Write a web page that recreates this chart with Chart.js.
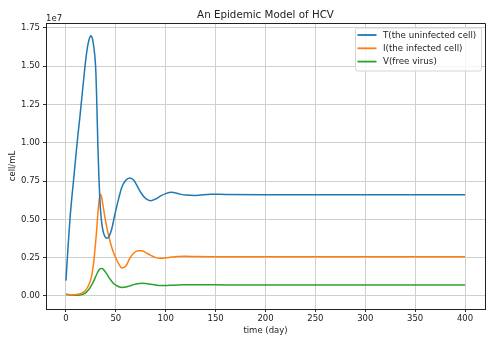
<!DOCTYPE html>
<html>
<head>
<meta charset="utf-8">
<script src="https://cdn.jsdelivr.net/npm/chart.js@4"></script>
<style>
  html, body { margin: 0; padding: 0; background: #fff; }
  canvas { display: block; }
</style>
</head>
<body>
<canvas id="hcv-chart" width="493" height="342"></canvas>
<script>
// time points (days)
const times = [0, 2, 4, 6, 8, 10, 12, 14, 16, 18, 20, 22, 24, 25, 26, 27, 28, 29, 30, 31, 32, 33, 34, 35, 36, 37, 38, 40, 42, 44, 46, 48, 50, 53, 56, 60, 64, 68, 72, 76, 80, 85, 90, 95, 100, 106, 112, 120, 130, 145, 160, 200, 250, 300, 350, 400];

// values in units of 1e7 cell/mL
const uninfected = [0.10, 0.31, 0.50, 0.65, 0.78, 0.92, 1.05, 1.17, 1.30, 1.43, 1.55, 1.64, 1.69, 1.698, 1.69, 1.665, 1.62, 1.56, 1.46, 1.24, 0.98, 0.78, 0.63, 0.53, 0.47, 0.43, 0.405, 0.38, 0.378, 0.40, 0.44, 0.50, 0.56, 0.64, 0.71, 0.755, 0.77, 0.755, 0.71, 0.665, 0.635, 0.622, 0.633, 0.653, 0.668, 0.676, 0.668, 0.658, 0.656, 0.664, 0.662, 0.661, 0.661, 0.661, 0.661, 0.661];
const infected = [0.008, 0.007, 0.007, 0.007, 0.008, 0.009, 0.011, 0.014, 0.019, 0.027, 0.04, 0.06, 0.09, 0.11, 0.14, 0.18, 0.23, 0.30, 0.37, 0.45, 0.54, 0.61, 0.655, 0.662, 0.635, 0.595, 0.555, 0.48, 0.415, 0.36, 0.315, 0.278, 0.248, 0.208, 0.183, 0.195, 0.245, 0.28, 0.295, 0.295, 0.283, 0.265, 0.25, 0.246, 0.249, 0.254, 0.258, 0.259, 0.257, 0.256, 0.256, 0.256, 0.256, 0.256, 0.256, 0.256];
const virus = [0.013, 0.009, 0.006, 0.005, 0.004, 0.004, 0.005, 0.006, 0.009, 0.014, 0.022, 0.035, 0.052, 0.062, 0.074, 0.087, 0.10, 0.115, 0.13, 0.145, 0.158, 0.168, 0.176, 0.18, 0.18, 0.177, 0.17, 0.152, 0.132, 0.112, 0.095, 0.08, 0.07, 0.06, 0.055, 0.058, 0.066, 0.074, 0.08, 0.083, 0.081, 0.076, 0.071, 0.068, 0.068, 0.07, 0.072, 0.073, 0.074, 0.073, 0.072, 0.072, 0.072, 0.072, 0.072, 0.072];

const seriesLabels = ["T(the uninfected cell)", "I(the infected cell)", "V(free virus)"];
const xTicks = [0, 50, 100, 150, 200, 250, 300, 350, 400];
const yTicks = [0, 0.25, 0.5, 0.75, 1.0, 1.25, 1.5, 1.75];

const FONT = "'DejaVu Sans', 'Liberation Sans', sans-serif";
const colors = ["#1f77b4", "#ff7f0e", "#2ca02c"];

function toPoints(values) {
  return times.map((t, i) => ({ x: t, y: values[i] }));
}

// title, axis labels, top/right spines and the legend box
const decorPlugin = {
  id: "decor",
  afterDraw(chart) {
    const ctx = chart.ctx;
    const area = chart.chartArea;
    ctx.save();

    // top and right spines
    ctx.strokeStyle = "#222";
    ctx.lineWidth = 1;
    ctx.beginPath();
    ctx.moveTo(area.left, area.top + 0.5);
    ctx.lineTo(area.right + 0.5, area.top + 0.5);
    ctx.lineTo(area.right + 0.5, area.bottom);
    ctx.stroke();

    ctx.fillStyle = "#222";
    ctx.font = "10.3px " + FONT;
    ctx.textAlign = "center";
    ctx.textBaseline = "alphabetic";
    ctx.fillText("An Epidemic Model of HCV", (area.left + area.right) / 2, 18);

    ctx.font = "8.5px " + FONT;
    ctx.textAlign = "left";
    ctx.fillText("1e7", area.left, 20.5);

    ctx.textAlign = "center";
    ctx.fillText("time (day)", (area.left + area.right) / 2, 333);

    ctx.save();
    ctx.translate(15, (area.top + area.bottom) / 2);
    ctx.rotate(-Math.PI / 2);
    ctx.fillText("cell/mL", 0, 0);
    ctx.restore();

    // legend
    const bx = 355, by = 27.5, bw = 126, bh = 43;
    ctx.fillStyle = "rgba(255,255,255,0.8)";
    ctx.strokeStyle = "#d6d6d6";
    ctx.beginPath();
    ctx.roundRect(bx + 0.5, by + 0.5, bw, bh, 2);
    ctx.fill();
    ctx.stroke();

    ctx.textAlign = "left";
    ctx.textBaseline = "middle";
    ctx.font = "8.7px " + FONT;
    seriesLabels.forEach((label, i) => {
      const y = 35 + i * 13.3;
      ctx.strokeStyle = colors[i];
      ctx.lineWidth = 1.8;
      ctx.beginPath();
      ctx.moveTo(357.5, y);
      ctx.lineTo(376.5, y);
      ctx.stroke();
      ctx.fillStyle = "#222";
      ctx.fillText(label, 383, y + 0.5);
    });

    ctx.restore();
  }
};

const ctx = document.getElementById("hcv-chart").getContext("2d");
const chart = new Chart(ctx, {
  type: "line",
  data: {
    datasets: [uninfected, infected, virus].map((values, i) => ({
      label: seriesLabels[i],
      data: toPoints(values),
      borderColor: colors[i],
      backgroundColor: colors[i],
      borderWidth: 1.5,
      pointRadius: 0,
      fill: false,
      cubicInterpolationMode: "monotone",
    })),
  },
  options: {
    responsive: false,
    animation: false,
    devicePixelRatio: 1,
    layout: { padding: { top: 23, right: 8, left: 0, bottom: 0 } },
    plugins: {
      legend: { display: false },
      title: { display: false },
      tooltip: { enabled: false },
    },
    scales: {
      x: {
        type: "linear",
        min: -20,
        max: 420,
        afterBuildTicks: (scale) => { scale.ticks = xTicks.map((v) => ({ value: v })); },
        afterFit: (scale) => { scale.height = 33; },
        grid: { color: "#cfcfcf", lineWidth: 1, tickLength: 3, tickColor: "#333" },
        border: { display: true, color: "#222", width: 1 },
        ticks: {
          color: "#222",
          padding: 2,
          maxRotation: 0,
          font: { family: FONT, size: 8.5 },
          callback: (v) => String(v),
        },
      },
      y: {
        type: "linear",
        min: -0.085,
        max: 1.781,
        afterBuildTicks: (scale) => { scale.ticks = yTicks.map((v) => ({ value: v })); },
        afterFit: (scale) => { scale.width = 46; },
        grid: { color: "#cfcfcf", lineWidth: 1, tickLength: 3, tickColor: "#333" },
        border: { display: true, color: "#222", width: 1 },
        ticks: {
          color: "#222",
          padding: 3,
          font: { family: FONT, size: 8.5 },
          callback: (v) => v.toFixed(2),
        },
      },
    },
  },
  plugins: [decorPlugin],
});
</script>
</body>
</html>
